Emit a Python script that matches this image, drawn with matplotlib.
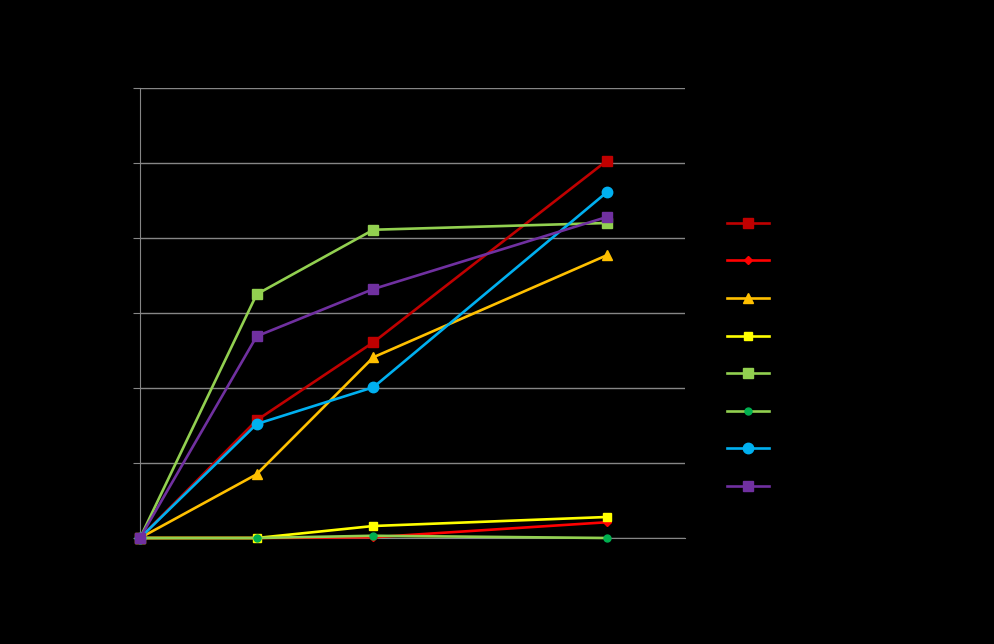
import matplotlib
matplotlib.use("Agg")
import matplotlib.pyplot as plt

# x positions of the four measurements
x = [0, 1, 2, 4]

# series values (axis 0..6)
s1 = [0, 1.57, 2.61, 5.03]
s2 = [0, 0.00, 0.01, 0.21]
s3 = [0, 0.85, 2.41, 3.77]
s4 = [0, 0.00, 0.16, 0.28]
s5 = [0, 3.25, 4.11, 4.20]
s6 = [0, 0.00, 0.03, 0.00]
s7 = [0, 1.52, 2.01, 4.61]
s8 = [0, 2.69, 3.32, 4.28]
labels = ["Series 1", "Series 2", "Series 3", "Series 4",
          "Series 5", "Series 6", "Series 7", "Series 8"]
yticks = [0, 1, 2, 3, 4, 5, 6]

fig = plt.figure(figsize=(9.94, 6.44), dpi=100, facecolor="black")
ax = fig.add_axes([140 / 994, 106 / 644, 545 / 994, 450 / 644])
ax.set_facecolor("black")

# (values, line colour, marker, marker face, marker size)
styles = [
    (s1, "#C00000", "s", "#C00000", 7),
    (s2, "#FF0000", "D", "#FF0000", 4.5),
    (s3, "#FFC000", "^", "#FFC000", 7),
    (s4, "#FFFF00", "s", "#FFFF00", 5.5),
    (s5, "#92D050", "s", "#92D050", 7),
    (s6, "#92D050", "o", "#00B050", 5),
    (s7, "#00B0F0", "o", "#00B0F0", 7.5),
    (s8, "#7030A0", "s", "#7030A0", 7),
]
for (vals, col, mk, mfc, ms), lab in zip(styles, labels):
    ax.plot(x, vals, color=col, lw=1.9, marker=mk, markerfacecolor=mfc,
            markeredgecolor=mfc, markersize=ms, label=lab, clip_on=False, zorder=3)

ax.set_xlim(0, 4.67)
ax.set_ylim(0, 6)
ax.set_yticks(yticks)
ax.set_xticks(x)
ax.grid(axis="y", color="#868686", lw=1)
ax.set_axisbelow(True)
for side in ["top", "right"]:
    ax.spines[side].set_visible(False)
ax.spines["left"].set_color("#868686")
ax.spines["bottom"].set_color("#868686")
ax.tick_params(axis="y", colors="#868686", labelcolor="black", length=5)
ax.tick_params(axis="x", length=0, labelcolor="black")

leg = ax.legend(loc="upper left", bbox_to_anchor=(1.054, 0.742), frameon=False,
                fontsize=10, handlelength=3.0, labelspacing=1.70, labelcolor="black")

fig.savefig("out.png", dpi=100, facecolor="black")
